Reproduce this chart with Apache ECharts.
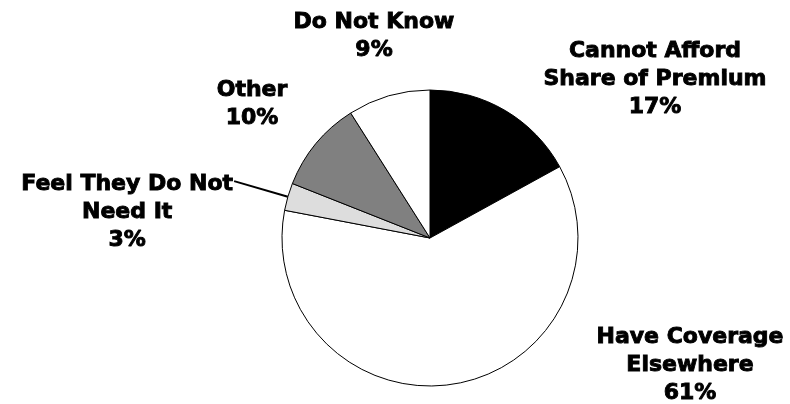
<!DOCTYPE html>
<html>
<head>
<meta charset="utf-8">
<script src="https://cdn.jsdelivr.net/npm/echarts@6/dist/echarts.min.js"></script>
<style>
  html, body { margin: 0; padding: 0; background: #fff; }
  #main { width: 790px; height: 404px; }
</style>
</head>
<body>
<div id="main"></div>
<script>
// slice names, clockwise from 12 o'clock
var categories = ['Cannot Afford\nShare of Premium', 'Have Coverage\nElsewhere', 'Feel They Do Not\nNeed It', 'Other', 'Do Not Know'];
var values = [17, 61, 3, 10, 9];
var colors = ['#000000', '#ffffff', '#dddddd', '#808080', '#ffffff'];
// label centres (text placement only; null = leave at the label line end)
var labelPos = [[655, 79], [690, 365], null, [252, 104], [374, 36]];

var myChart = echarts.init(document.getElementById('main'));
var pieData = [];
for (var i = 0; i < categories.length; i++) {
    var item = {
        name: categories[i],
        value: values[i],
        itemStyle: { color: colors[i] },
        labelLine: { show: labelPos[i] == null }
    };
    if (labelPos[i] == null) {
        // push text down so the line meets the first row
        item.label = { padding: [62, 0, 0, 0] };
    }
    pieData.push(item);
}

var option = {
    backgroundColor: '#ffffff',
    animation: false,
    series: [{
        type: 'pie',
        center: [430, 238],
        radius: 148,
        startAngle: 90,
        clockwise: true,
        avoidLabelOverlap: false,
        data: pieData,
        itemStyle: {
            borderColor: '#000',
            borderWidth: 1
        },
        label: {
            show: true,
            position: 'outside',
            distanceToLabelLine: 1,
            formatter: function (p) {
                return '{t|' + p.name + '\n' + p.value + '%}';
            },
            rich: {
                t: {
                    align: 'center',
                    color: '#000',
                    fontFamily: 'DejaVu Sans',
                    fontWeight: 'bold',
                    fontSize: 22,
                    lineHeight: 28,
                    textBorderColor: '#000',
                    textBorderWidth: 0.9
                }
            }
        },
        labelLine: {
            lineStyle: { color: '#000', width: 2 },
            length: 56,
            length2: 0
        },
        labelLayout: function (params) {
            var p = labelPos[params.dataIndex];
            if (!p) return {};
            return { x: p[0], y: p[1], align: 'center', verticalAlign: 'middle' };
        },
        emphasis: { disabled: true }
    }]
};
myChart.setOption(option, true);
</script>
</body>
</html>
